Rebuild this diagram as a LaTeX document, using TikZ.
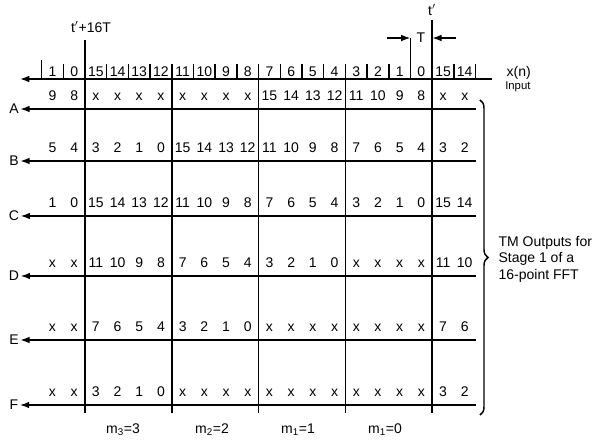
\documentclass[tikz,border=0pt]{standalone}
\usepackage{fontspec}
\setmainfont{Liberation Sans}
\usetikzlibrary{arrows.meta,decorations.pathreplacing}
\begin{document}
\begin{tikzpicture}[x=0.75pt,y=-0.75pt,
  ln/.style={line width=1.1pt},
  arr/.style={line width=1.1pt,-{Latex[length=7pt,width=5pt]}},
  lbl/.style={font=\fontsize{10.5}{12.4}\selectfont,inner sep=1pt},
  small/.style={font=\fontsize{8.5}{9}\selectfont,inner sep=0pt},
  cell/.style={font=\fontsize{10.5}{12}\selectfont,inner sep=0pt,anchor=base}]
\useasboundingbox (0,0) rectangle (601,441);
% input row
\coordinate (inR) at (492,79);
\coordinate (inL) at (20,79);
\draw[arr] (inR) -- (inL);
\foreach \k in {0,...,20}{
  \coordinate (tb\k) at ({41.6+21.7*\k},64);
  \coordinate (tt\k) at ({41.6+21.7*\k},79);
  \draw[ln] (tb\k) -- (tt\k);
}
\coordinate (tx0) at (41.6,60);
\draw[ln] (tx0) -- (tt0);
\foreach \v [count=\j from 0] in {1,0,15,14,13,12,11,10,9,8,7,6,5,4,3,2,1,0,15,14}{
  \node[cell] (in-\j) at ({41.6+21.7*(\j+0.5)},76.5) {\v};
}
\node[lbl,anchor=west] (xn) at (505,73) {x(n)};
\node[small,anchor=west] (inp) at (505,87) {Input};
% major verticals
\foreach \k/\top in {2/40,6/79,10/79,14/79,18/20}{
  \coordinate (vt\k) at ({41.6+21.7*\k},\top);
  \coordinate (vb\k) at ({41.6+21.7*\k},413);
  \draw[ln] (vt\k) -- (vb\k);
}
\node[lbl] (t16) at (91,27) {t$'$+16T};
\node[lbl] (tp) at (432,10) {t$'$};
% T marker
\coordinate (Tt) at (410.5,38);
\coordinate (Tb) at (410.5,79);
\draw[ln] (Tt) -- (Tb);
\coordinate (Ta) at (387,38);
\draw[arr] (Ta) -- (Tt);
\coordinate (Tc) at (456,38);
\coordinate (Td) at (432.2,38);
\draw[arr] (Tc) -- (Td);
\node[lbl] (T) at (421,38) {T};
% output rows
\foreach \r/\yy/\vals in {
  A/109/{9,8,x,x,x,x,x,x,x,x,15,14,13,12,11,10,9,8,x,x},
  B/161/{5,4,3,2,1,0,15,14,13,12,11,10,9,8,7,6,5,4,3,2},
  C/216/{1,0,15,14,13,12,11,10,9,8,7,6,5,4,3,2,1,0,15,14},
  D/276/{x,x,11,10,9,8,7,6,5,4,3,2,1,0,x,x,x,x,11,10},
  E/340/{x,x,7,6,5,4,3,2,1,0,x,x,x,x,x,x,x,x,7,6},
  F/405/{x,x,3,2,1,0,x,x,x,x,x,x,x,x,x,x,x,x,3,2}}{
  \node[lbl] (L\r) at (14,\yy) {\r};
  \coordinate (E\r) at (475.6,\yy);
  \draw[arr] (E\r) -- (L\r.east);
  \foreach \v [count=\j from 0] in \vals {
    \node[cell] (\r-\j) at ({41.6+21.7*(\j+0.5)},\yy-8) {\v};
  }
}
% brace and legend
\coordinate (brT) at (480,100);
\coordinate (brB) at (480,415);
\draw[ln,decorate,decoration={brace,amplitude=6pt}] (brT) -- (brB);
\node[lbl,align=left,anchor=west] (legend) at (497,259) {TM Outputs for\\Stage 1 of a\\16-point FFT};
% bottom labels
\node[lbl] (m3) at (123,430) {m\textsubscript{3}=3};
\node[lbl] (m2) at (212,430) {m\textsubscript{2}=2};
\node[lbl] (m1) at (298,430) {m\textsubscript{1}=1};
\node[lbl] (m0) at (385,430) {m\textsubscript{1}=0};
\end{tikzpicture}
\end{document}
